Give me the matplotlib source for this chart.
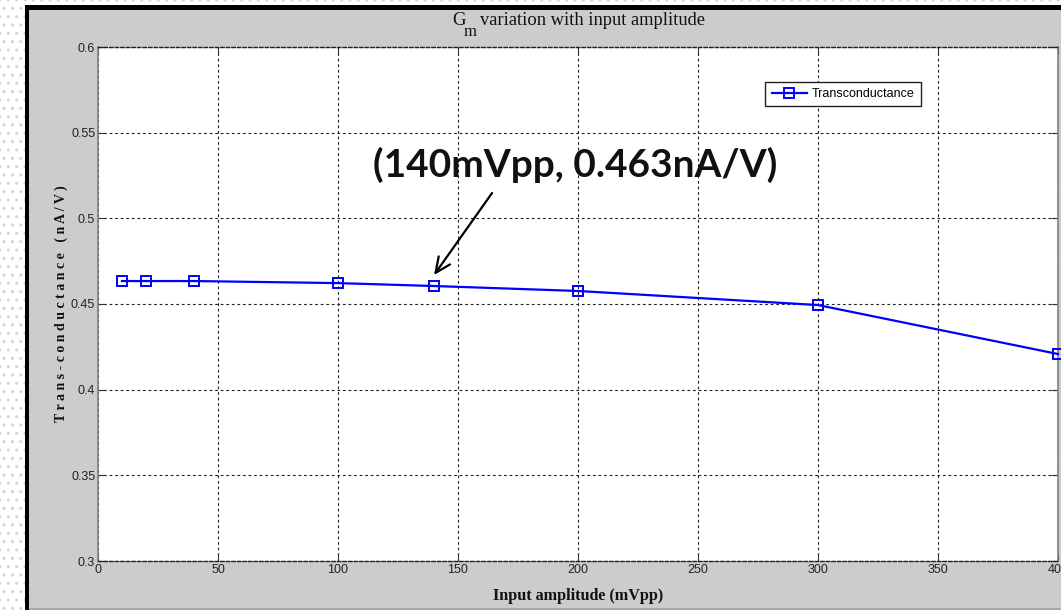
import matplotlib
matplotlib.use('Agg')
import matplotlib.pyplot as plt
from matplotlib.patches import Rectangle

# data
amplitude = [10, 20, 40, 100, 140, 200, 300, 400]          # mVpp
gm = [0.4634, 0.4634, 0.4634, 0.4622, 0.4605, 0.4576, 0.4494, 0.4208]  # nA/V
xticks = [0, 50, 100, 150, 200, 250, 300, 350, 400]
yticks = [0.3, 0.35, 0.4, 0.45, 0.5, 0.55, 0.6]
ytick_labels = ['0.3', '0.35', '0.4', '0.45', '0.5', '0.55', '0.6']
note_idx = 4   # the 140 mVpp point
note_text = '(140mVpp, 0.463nA/V)'

narrow = ['Liberation Sans Narrow', 'Liberation Sans', 'DejaVu Sans']
serif = ['Liberation Serif', 'DejaVu Serif']
plt.rcParams['hatch.linewidth'] = 1.0

W, H = 1061, 610
fig = plt.figure(figsize=(W / 100, H / 100), dpi=100, facecolor='white')

# dotted page background strips + black frame + grey matlab window
def bg(x, y, w, h, **kw):
    fig.patches.append(Rectangle((x / W, 1 - (y + h) / H), w / W, h / H,
                                 transform=fig.transFigure, lw=0, zorder=-5, **kw))

bg(0, 0, 25, H, facecolor='white', edgecolor='#d4d4d4', hatch='..')
bg(0, 0, W, 5, facecolor='white', edgecolor='#d4d4d4', hatch='..')
bg(25, 5, W - 25, H - 5, facecolor='black')
bg(29, 10, W - 29, H - 10, facecolor='#cccccc')
bg(29, H - 2, W - 29, 2, facecolor='#a8a8a8')

ax = fig.add_axes([98 / W, 1 - 561 / H, 960 / W, 514 / H])
ax.set_facecolor('white')

ax.plot(amplitude, gm, color='#0000ff', lw=1.6, marker='s', markersize=7.5,
        markerfacecolor='none', markeredgecolor='#0000ff', markeredgewidth=1.4,
        label='Transconductance', clip_on=False, zorder=5)

ax.set_xlim(0, 400)
ax.set_ylim(0.3, 0.6)
ax.set_xticks(xticks)
ax.set_yticks(yticks)
ax.set_yticklabels(ytick_labels)
ax.grid(True, color='#222222', linestyle=(0, (2.5, 2.5)), linewidth=0.8)
ax.tick_params(direction='in', length=5, top=True, right=True, color='#333333',
               labelsize=9, labelcolor='#222222', pad=2)
for lbl in ax.get_xticklabels() + ax.get_yticklabels():
    lbl.set_family(narrow)

for side in ['left', 'right']:
    ax.spines[side].set_color('#808080')
    ax.spines[side].set_linewidth(1.2)
for side in ['top', 'bottom']:
    ax.spines[side].set_color('#222222')
    ax.spines[side].set_linestyle((0, (2.5, 1.5)))
    ax.spines[side].set_linewidth(1.0)

# title with the matlab-style dropped subscript
fig.text(452 / W, 1 - 25 / H, 'G', ha='left', va='baseline', fontsize=13.5,
         family=serif, color='#111111')
fig.text(464 / W, 1 - 36 / H, 'm', ha='left', va='baseline', fontsize=12,
         family=serif, color='#111111')
fig.text(480 / W, 1 - 25 / H, 'variation with input amplitude', ha='left',
         va='baseline', fontsize=13.3, family=serif, color='#111111')

ax.set_xlabel('Input amplitude (mVpp)', family=serif, fontsize=11.6, fontweight='bold',
              labelpad=9, color='#111111')
ax.set_ylabel('T r a n s - c o n d u c t a n c e   ( n A / V )', family=serif,
              fontsize=10, fontweight='bold', labelpad=2, color='#111111')

leg = ax.legend(loc='upper right', bbox_to_anchor=(0.857, 0.932), frameon=True,
                fancybox=False, framealpha=1, edgecolor='#222222',
                prop={'family': narrow, 'size': 9}, handlelength=2.8,
                borderpad=0.5, handletextpad=0.4, borderaxespad=0)
leg.get_frame().set_linewidth(1.0)

# annotation pointing at the 140 mVpp point
ax.annotate('', xy=(amplitude[note_idx], gm[note_idx] + 0.0064),
            xytext=(164.2, 0.5148),
            arrowprops=dict(arrowstyle='->,head_length=1.1,head_width=0.5',
                            color='black', lw=1.6, shrinkA=0, shrinkB=0))
ax.text(199, 0.5241, note_text, ha='center', va='baseline', fontsize=28,
        fontweight='bold', family=['Lato', 'Open Sans', 'DejaVu Sans'], color='#111111')

fig.savefig('out.png', dpi=100, facecolor=fig.get_facecolor())
